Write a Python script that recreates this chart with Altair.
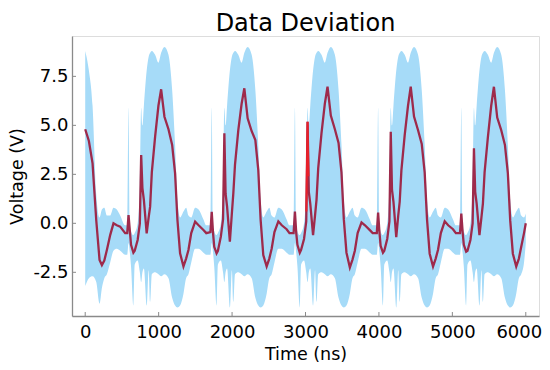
import altair as alt
import pandas as pd

# ---- data ----
time_ns = [
    0, 50, 100, 150, 195, 227, 260, 295, 340, 385, 430, 476, 544,
    572, 590, 608, 624, 656, 674, 714, 744, 762, 779, 799, 837, 864, 884, 907, 952, 997, 1034,
    1079, 1134, 1184, 1224, 1256, 1292, 1338, 1374, 1406, 1444, 1497, 1544, 1610, 1649,
    1705, 1723, 1741, 1757, 1789, 1807, 1847, 1877, 1895, 1912, 1932, 1970, 1997, 2017, 2040, 2085, 2130, 2167,
    2212, 2267, 2317, 2357, 2389, 2425, 2471, 2507, 2539, 2577, 2630, 2677, 2743, 2782,
    2838, 2856, 2874, 2890, 2922, 2940, 2980, 3010, 3028, 3045, 3065, 3103, 3130, 3150, 3173, 3218, 3263, 3300,
    3345, 3400, 3450, 3490, 3522, 3558, 3604, 3640, 3672, 3710, 3763, 3810, 3876, 3915,
    3971, 3989, 4007, 4023, 4055, 4073, 4113, 4143, 4161, 4178, 4198, 4236, 4263, 4283, 4306, 4351, 4396, 4433,
    4478, 4533, 4583, 4623, 4655, 4691, 4737, 4773, 4805, 4843, 4896, 4943, 5009, 5048,
    5104, 5122, 5140, 5156, 5188, 5206, 5246, 5276, 5294, 5311, 5331, 5369, 5396, 5416, 5439, 5484, 5529, 5566,
    5611, 5666, 5716, 5756, 5788, 5824, 5870, 5906, 5938, 5976, 6000,
]
mean_v = [
    4.8, 4.2, 3.06, 0.17, -1.87, -2.13, -1.9, -1.36, -0.6, 0.0, -0.1, -0.17, -0.5,
    -0.5, 0.42, -0.4, -1.1, -1.5, -1.4, -0.85, 0.0, 3.48, 1.8, 1.19, -0.51, 0.3, 0.85, 2.6, 4.42, 6.0, 6.84,
    5.44, 4.8, 4.0, 2.55, 0.17, -1.53, -2.2, -1.8, -1.36, -0.5, 0.08, -0.1, -0.34, -0.5,
    -0.45, 0.59, -0.5, -1.2, -1.53, -1.4, -0.68, 0.2, 4.59, 1.5, 0.85, -0.94, 0.5, 1.53, 3.0, 4.76, 6.1, 6.89,
    5.36, 4.7, 4.25, 2.72, 0.17, -1.62, -2.2, -1.8, -1.3, -0.45, 0.1, -0.1, -0.3, -0.5,
    -0.5, 0.6, -0.5, -1.1, -1.5, -1.35, -0.8, 0.1, 5.18, 1.6, 1.0, -0.6, 0.4, 1.2, 2.8, 4.6, 6.1, 6.97,
    5.5, 4.8, 4.1, 2.6, 0.2, -1.5, -2.25, -1.85, -1.4, -0.5, 0.05, -0.1, -0.35, -0.5,
    -0.5, 0.55, -0.45, -1.15, -1.5, -1.4, -0.8, 0.1, 4.67, 1.7, 1.1, -0.7, 0.4, 1.1, 2.7, 4.5, 6.0, 6.97,
    5.45, 4.75, 4.05, 2.6, 0.2, -1.55, -2.2, -1.8, -1.35, -0.5, 0.1, -0.1, -0.3, -0.5,
    -0.5, 0.5, -0.45, -1.1, -1.45, -1.4, -0.85, 0.0, 3.83, 1.6, 1.0, -0.6, 0.3, 1.0, 2.6, 4.4, 6.0, 6.97,
    5.4, 4.75, 4.0, 2.55, 0.15, -1.55, -2.2, -1.8, -1.2, -0.5, 0.0,
]
lower_v = [
    -3.2, -2.8, -2.7, -3.0, -4.1, -3.3, -2.8, -2.6, -2.0, -1.4, -1.3, -1.4, -1.6,
    -1.6, -1.0, -1.5, -2.2, -4.2, -2.1, -1.9, -2.5, -3.0, -2.5, -2.3, -4.2, -2.4, -4.0, -2.6, -2.5, -2.6, -2.7,
    -2.6, -2.8, -3.8, -4.2, -4.3, -4.2, -3.6, -2.8, -2.6, -2.0, -1.3, -1.3, -1.5, -1.6,
    -1.6, -1.0, -1.5, -2.2, -4.2, -2.1, -1.9, -2.5, -3.0, -2.5, -2.3, -4.3, -2.4, -4.0, -2.6, -2.5, -2.6, -2.7,
    -2.6, -2.8, -3.8, -4.2, -4.3, -4.2, -3.6, -2.8, -2.6, -2.0, -1.3, -1.3, -1.5, -1.6,
    -1.6, -1.0, -1.5, -2.2, -4.3, -2.1, -1.9, -2.5, -3.0, -2.5, -2.3, -4.2, -2.4, -4.0, -2.6, -2.5, -2.6, -2.7,
    -2.6, -2.8, -3.8, -4.2, -4.3, -4.2, -3.6, -2.8, -2.6, -2.0, -1.3, -1.3, -1.5, -1.6,
    -1.6, -1.0, -1.5, -2.2, -4.2, -2.1, -1.9, -2.5, -3.0, -2.5, -2.3, -4.3, -2.4, -4.0, -2.6, -2.5, -2.6, -2.7,
    -2.6, -2.8, -3.8, -4.2, -4.3, -4.2, -3.6, -2.8, -2.6, -2.0, -1.3, -1.3, -1.5, -1.6,
    -1.6, -1.0, -1.5, -2.2, -4.2, -2.1, -1.9, -2.5, -3.0, -2.5, -2.3, -4.2, -2.4, -4.0, -2.6, -2.5, -2.6, -2.7,
    -2.6, -2.8, -3.8, -4.2, -4.3, -4.2, -3.6, -2.8, -2.6, -2.0, -1.0,
]
upper_v = [
    8.8, 7.8, 6.0, 1.5, 0.3, 0.7, 0.8, 0.4, 0.4, 0.8, 0.7, 0.4, -0.1,
    -0.1, 5.9, -0.1, -0.4, -0.6, -0.5, 0.0, 2.0, 5.9, 5.0, 6.0, 7.8, 8.5, 8.7, 8.8, 8.6, 8.2, 8.7,
    9.0, 8.6, 6.8, 4.0, 1.2, 0.3, 0.6, 0.8, 0.4, 0.3, 0.8, 0.7, 0.2, -0.1,
    -0.1, 5.9, -0.1, -0.4, -0.6, -0.5, 0.0, 2.0, 5.9, 5.0, 6.0, 7.8, 8.5, 8.7, 8.8, 8.6, 8.2, 8.7,
    9.0, 8.6, 6.8, 4.0, 1.2, 0.3, 0.6, 0.8, 0.4, 0.3, 0.8, 0.7, 0.2, -0.1,
    -0.1, 5.9, -0.1, -0.4, -0.6, -0.5, 0.0, 2.0, 5.9, 5.0, 6.0, 7.8, 8.5, 8.7, 8.8, 8.6, 8.2, 8.7,
    9.0, 8.6, 6.8, 4.0, 1.2, 0.3, 0.6, 0.8, 0.4, 0.3, 0.8, 0.7, 0.2, -0.1,
    -0.1, 5.9, -0.1, -0.4, -0.6, -0.5, 0.0, 2.0, 5.9, 5.0, 6.0, 7.8, 8.5, 8.7, 8.8, 8.6, 8.2, 8.7,
    9.0, 8.6, 6.8, 4.0, 1.2, 0.3, 0.6, 0.8, 0.4, 0.3, 0.8, 0.7, 0.2, -0.1,
    -0.1, 5.9, -0.1, -0.4, -0.6, -0.5, 0.0, 2.0, 5.9, 5.0, 6.0, 7.8, 8.5, 8.7, 8.8, 8.6, 8.2, 8.7,
    9.0, 8.6, 6.8, 4.0, 1.2, 0.3, 0.6, 0.8, 0.4, 0.3, 0.5,
]

# bright red stretch of the mean curve near 3000 ns
red_t = [3012, 3028, 3040]
red_v = [0.6, 5.18, 2.4]

x_ticks = [0, 1000, 2000, 3000, 4000, 5000, 6000]
y_ticks = [-2.5, 0.0, 2.5, 5.0, 7.5]

W, H = 467, 280
FONT = "DejaVu Sans"
AXIS_GRAY = "#8a8a8a"

df = pd.DataFrame({"t": time_ns, "m": mean_v, "lo": lower_v, "hi": upper_v})
red_df = pd.DataFrame({"t": red_t, "m": red_v})

xs = alt.Scale(domain=[-180, 6180], nice=False, zero=False)
ys = alt.Scale(domain=[-4.73, 9.56], nice=False, zero=False)

x_axis = alt.Axis(values=x_ticks, title="Time (ns)", format="d", grid=False, ticks=False,
                  domainColor=AXIS_GRAY, domainWidth=1.3, labelFont=FONT, labelFontSize=18,
                  labelColor="black", labelPadding=7, titleFont=FONT, titleFontSize=17.5,
                  titleFontWeight="normal", titleColor="black", titlePadding=4, labelFlush=False,
                  labelOffset={"condition": {"test": "datum.value == 6000", "value": -7}, "value": 0})
y_axis = alt.Axis(values=y_ticks, title="Voltage (V)", grid=False, ticks=False,
                  labelExpr="datum.value < 0 ? '-' + format(abs(datum.value), '.1f') : format(datum.value, '.1f')",
                  domainColor=AXIS_GRAY, domainWidth=1.3, labelFont=FONT, labelFontSize=18,
                  labelColor="black", labelPadding=4, titleFont=FONT, titleFontSize=17.5,
                  titleFontWeight="normal", titleColor="black", titlePadding=6, labelFlush=False)

band = alt.Chart(df).mark_area(color="#a6dbf8", opacity=1, interpolate="monotone").encode(
    x=alt.X("t:Q", scale=xs, axis=x_axis),
    y=alt.Y("lo:Q", scale=ys, axis=y_axis),
    y2="hi:Q",
)
line = alt.Chart(df).mark_line(color="#9e2a4b", strokeWidth=2.3).encode(
    x=alt.X("t:Q", scale=xs),
    y=alt.Y("m:Q", scale=ys),
)
red_line = alt.Chart(red_df).mark_line(color="#e8202a", strokeWidth=2.0).encode(
    x=alt.X("t:Q", scale=xs),
    y=alt.Y("m:Q", scale=ys),
)

xt = pd.DataFrame({"v": x_ticks})
yt = pd.DataFrame({"v": y_ticks})
xtick_marks = alt.Chart(xt).mark_rule(color=AXIS_GRAY, strokeWidth=1).encode(
    x=alt.X("v:Q", scale=xs), y=alt.value(H), y2=alt.value(H - 4))
ytick_marks = alt.Chart(yt).mark_rule(color=AXIS_GRAY, strokeWidth=1).encode(
    y=alt.Y("v:Q", scale=ys), x=alt.value(0), x2=alt.value(4))

chart = alt.layer(band, line, red_line, xtick_marks, ytick_marks).properties(
    width=W, height=H,
    title=alt.TitleParams("Data Deviation", font=FONT, fontSize=24, fontWeight="normal",
                          color="black", anchor="middle", offset=0),
    autosize=alt.AutoSizeParams(type="none"),
    padding={"left": 64, "top": 28, "right": 3, "bottom": 46},
).configure_view(stroke=None).configure(background="white")

chart.save("out.html", embed_options={"renderer": "svg", "actions": False})
